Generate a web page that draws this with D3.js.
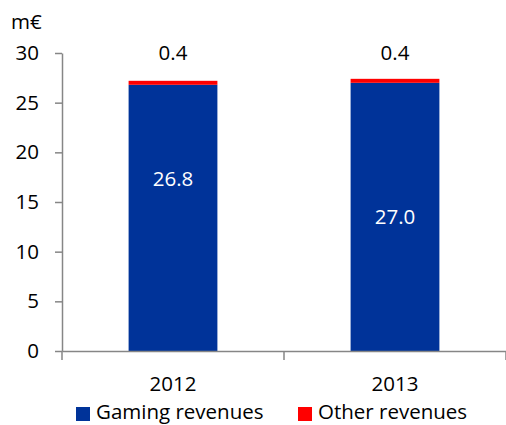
<!DOCTYPE html>
<html>
<head>
<meta charset="utf-8">
<script src="https://cdn.jsdelivr.net/npm/d3@7"></script>
<style>
  body { margin: 0; background: #fff; }
  text { font-family: "Open Sans", sans-serif; }
</style>
</head>
<body>
<script>
var width = 506;
var height = 425;

var years = ["2012", "2013"];
var gaming = [26.8, 27.0];
var other = [0.4, 0.4];
var yTicks = [0, 5, 10, 15, 20, 25, 30];
var seriesNames = ["Gaming revenues", "Other revenues"];
var colors = ["#003399", "#FF0000"];

// where the white labels sit inside the blue bars (in m€)
var insideLabelAt = [17.4, 13.5];

var fontSize = 20.5;
var axisColor = "#868686";

var svg = d3.select("body").append("svg")
    .attr("width", width)
    .attr("height", height);

var x = d3.scaleBand()
    .domain(years)
    .range([62, 506])
    .paddingInner(0.6)
    .paddingOuter(0.3);

var y = d3.scaleLinear()
    .domain([0, 30])
    .range([351, 53]);

// stacked bars
var stack = d3.stack().keys([0, 1]).value(function(d, k) { return d[k]; });
var rows = years.map(function(yr, i) { return [gaming[i], other[i]]; });
var layers = stack(rows);

layers.forEach(function(layer, k) {
    svg.append("g")
        .attr("fill", colors[k])
        .selectAll("rect")
        .data(layer)
        .enter().append("rect")
        .attr("x", function(d, i) { return x(years[i]); })
        .attr("width", x.bandwidth())
        .attr("y", function(d) { return y(d[1]); })
        .attr("height", function(d) { return y(d[0]) - y(d[1]); });
});

// y axis
var yAxis = svg.append("g")
    .attr("transform", "translate(62,0)")
    .call(d3.axisLeft(y).tickValues(yTicks).tickSize(7).tickSizeOuter(0).tickPadding(16));
yAxis.select(".domain").attr("stroke", axisColor).attr("stroke-width", 1.5);
yAxis.selectAll(".tick line").attr("stroke", axisColor).attr("stroke-width", 1.5);
yAxis.selectAll(".tick text")
    .attr("font-size", fontSize)
    .attr("font-family", "Open Sans")
    .attr("fill", "#000");

// x axis
var xAxis = svg.append("g")
    .attr("transform", "translate(0,351)")
    .call(d3.axisBottom(x).tickSize(0).tickPadding(25));
xAxis.select(".domain").attr("stroke", axisColor).attr("stroke-width", 1.5);
xAxis.selectAll(".tick text")
    .attr("font-size", fontSize)
    .attr("font-family", "Open Sans")
    .attr("fill", "#000");

// category boundary ticks
var bounds = [x.range()[0]].concat(years.map(function(d) { return x(d) + x.bandwidth() + x.step() * x.paddingOuter(); }));
xAxis.selectAll(".bound")
    .data(bounds)
    .enter().append("line")
    .attr("x1", function(d) { return d; })
    .attr("x2", function(d) { return d; })
    .attr("y1", 0)
    .attr("y2", 9)
    .attr("stroke", axisColor)
    .attr("stroke-width", 1.5);

// unit label
svg.append("text")
    .attr("x", 11)
    .attr("y", 29)
    .attr("font-size", fontSize)
    .text("m€");

// value labels
svg.selectAll(".top-label")
    .data(other)
    .enter().append("text")
    .attr("x", function(d, i) { return x(years[i]) + x.bandwidth() / 2; })
    .attr("y", y(30))
    .attr("dy", "0.36em")
    .attr("text-anchor", "middle")
    .attr("font-size", fontSize)
    .text(function(d) { return d.toFixed(1); });

svg.selectAll(".in-label")
    .data(gaming)
    .enter().append("text")
    .attr("x", function(d, i) { return x(years[i]) + x.bandwidth() / 2; })
    .attr("y", function(d, i) { return y(insideLabelAt[i]); })
    .attr("dy", "0.36em")
    .attr("text-anchor", "middle")
    .attr("font-size", fontSize)
    .attr("fill", "#fff")
    .text(function(d) { return d.toFixed(1); });

// legend
var legendX = [76, 298];
var legend = svg.selectAll(".legend")
    .data(seriesNames)
    .enter().append("g")
    .attr("transform", function(d, i) { return "translate(" + legendX[i] + ",405)"; });
legend.append("rect")
    .attr("y", 2)
    .attr("width", 14)
    .attr("height", 14)
    .attr("fill", function(d, i) { return colors[i]; });
legend.append("text")
    .attr("x", 20)
    .attr("y", 14)
    .attr("font-size", fontSize)
    .text(function(d) { return d; });
</script>
</body>
</html>
